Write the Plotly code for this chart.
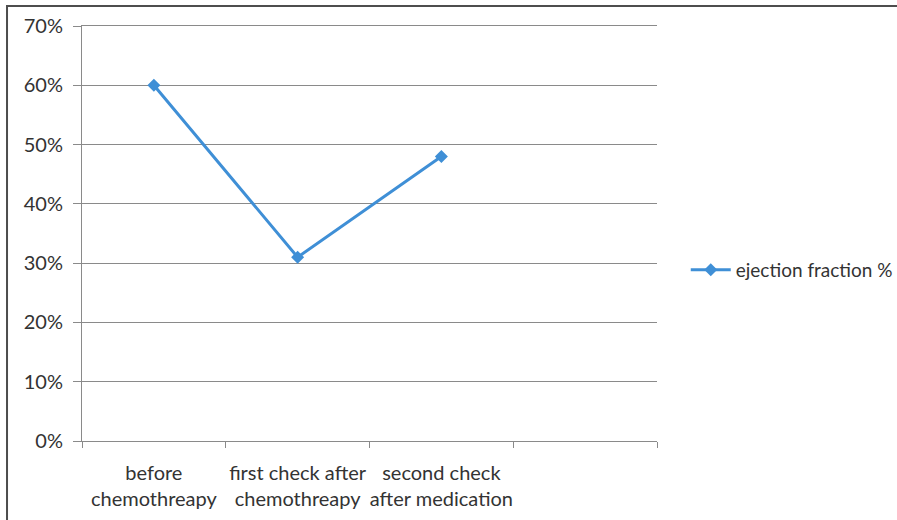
import plotly.graph_objects as go

# Ejection fraction across the treatment timeline
stages = ["before<br>chemothreapy", "first check after<br>chemothreapy", "second check<br>after medication"]
ejection_fraction = [0.60, 0.31, 0.48]
series_name = "ejection fraction %"
y_ticks = [0, 0.1, 0.2, 0.3, 0.4, 0.5, 0.6, 0.7]

positions = list(range(len(stages)))
grid_col = "#8a8a8a"
text_col = "#333333"
line_col = "#3f8fd6"
font_family = "Lato, Carlito, Calibri, sans-serif"

fig = go.Figure()
fig.add_trace(go.Scatter(
    x=positions, y=ejection_fraction, name=series_name,
    mode="lines+markers",
    line=dict(color=line_col, width=3),
    marker=dict(symbol="diamond", size=10, color=line_col),
))

fig.update_layout(
    width=897, height=520,
    margin=dict(l=82, r=240, t=26, b=79, autoexpand=False),
    paper_bgcolor="white", plot_bgcolor="white",
    font=dict(family=font_family, size=20, color=text_col),
    showlegend=True,
    legend=dict(x=1.05, y=0.412, xanchor="left", yanchor="middle",
                font=dict(size=19, color=text_col), bgcolor="rgba(0,0,0,0)",
                itemwidth=40),
    xaxis=dict(
        range=[-0.5, 3.5], tickmode="array", tickvals=positions, ticktext=stages,
        ticks="", showgrid=False, zeroline=False, tickangle=0, automargin=False,
        showline=True, linecolor=grid_col, linewidth=1, mirror=True,
        minor=dict(tickmode="array", tickvals=[-0.5, 0.5, 1.5, 2.5, 3.5],
                   ticks="outside", ticklen=6, tickcolor=grid_col, showgrid=False),
        ticklabelstandoff=14,
        tickfont=dict(size=20, color=text_col),
    ),
    yaxis=dict(
        range=[0, 0.7], tickmode="array", tickvals=y_ticks, tickformat=".0%",
        showgrid=True, gridcolor=grid_col, gridwidth=1, zeroline=False,
        showline=True, linecolor=grid_col, linewidth=1, automargin=False,
        ticks="outside", ticklen=8, tickcolor=grid_col,
        ticklabelstandoff=6,
        tickfont=dict(size=20, color=text_col),
    ),
    shapes=[dict(type="rect", xref="paper", yref="paper",
                 x0=-0.1304, x1=2.0, y0=-1.0, y1=1.048,
                 line=dict(color="#4d4d4d", width=2), layer="below")],
)

fig.write_html("out.html")
